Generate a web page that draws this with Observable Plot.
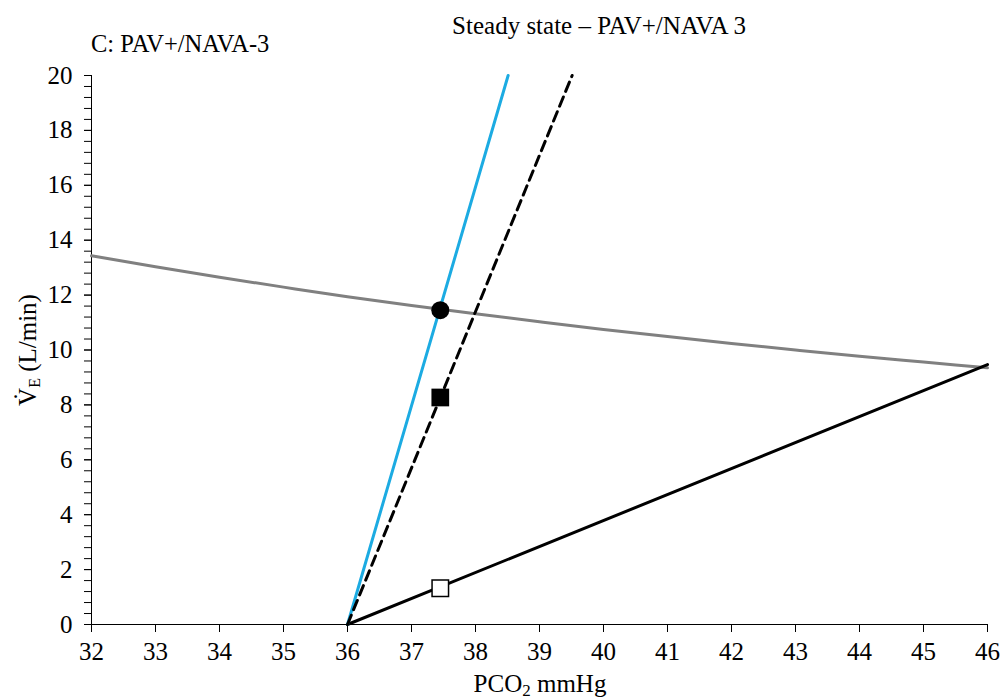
<!DOCTYPE html>
<html><head><meta charset="utf-8">
<script src="https://cdn.jsdelivr.net/npm/d3@7"></script>
<script src="https://cdn.jsdelivr.net/npm/@observablehq/plot@0.6"></script>
<style>body{margin:0;background:#fff} svg{display:block} svg text{font-family:"Liberation Serif","Times New Roman",serif !important;}</style>
</head><body><div id="chart"></div>
<script>
// Metabolic hyperbola (gray curve)
const hypPCO2 = [32, 33, 34, 35, 36, 37, 38, 39, 40, 41, 42, 43, 44, 45, 46];
const hypVE   = [13.43, 13.03, 12.65, 12.29, 11.94, 11.62, 11.32, 11.03, 10.75, 10.49, 10.24, 10.0, 9.77, 9.56, 9.35];
// Blue response line
const bluePCO2 = [36, 38.51];
const blueVE   = [0, 20];
// Dashed response line
const dashPCO2 = [36, 39.51];
const dashVE   = [0, 20];
// Solid black response line
const blackPCO2 = [36, 46];
const blackVE   = [0, 9.47];
// Markers
const markPCO2 = [37.45, 37.45, 37.45];
const markVE   = [11.45, 8.27, 1.32];
const markKind = ["filled circle", "filled square", "open square"];
// Ticks
const xTicks = [32, 33, 34, 35, 36, 37, 38, 39, 40, 41, 42, 43, 44, 45, 46];
const yTicks = [0, 2, 4, 6, 8, 10, 12, 14, 16, 18, 20];
const yMinorTicks = d3.range(0, 50.5).map(i => +(i * 0.4).toFixed(1));
// Texts
const titleText = "Steady state – PAV+/NAVA 3";
const panelText = "C: PAV+/NAVA-3";

const FONT = "'Liberation Serif', 'Times New Roman', serif";
const toRows = (xs, ys) => xs.map((x, i) => ({x, y: ys[i]}));
const marks = toRows(markPCO2, markVE).map((d, i) => ({...d, kind: markKind[i]}));

const plot = Plot.plot({
  width: 1003,
  height: 700,
  marginLeft: 91,
  marginRight: 16,
  marginTop: 75,
  marginBottom: 76,
  style: {fontFamily: FONT, fontSize: "25px", color: "#000", background: "#fff"},
  x: {domain: [32, 46], label: null},
  y: {domain: [0, 20], label: null},
  marks: [
    Plot.axisY(yMinorTicks, {tickSize: 7, tickFormat: () => "", label: null, stroke: "#000"}),
    Plot.axisY(yTicks, {tickSize: 7, tickPadding: 12, label: null, stroke: "#000", fontSize: 25}),
    Plot.axisX(xTicks, {tickSize: 8, tickPadding: 10, label: null, stroke: "#000", fontSize: 25}),
    Plot.ruleX([32], {stroke: "#000", strokeWidth: 1}),
    Plot.ruleY([0], {stroke: "#000", strokeWidth: 1}),
    Plot.line(toRows(hypPCO2, hypVE), {x: "x", y: "y", stroke: "#808080", strokeWidth: 3, curve: "monotone-x"}),
    Plot.line(toRows(blackPCO2, blackVE), {x: "x", y: "y", stroke: "#000", strokeWidth: 3}),
    Plot.line(toRows(bluePCO2, blueVE), {x: "x", y: "y", stroke: "#1cabe2", strokeWidth: 3}),
    Plot.line(toRows(dashPCO2, dashVE), {x: "x", y: "y", stroke: "#000", strokeWidth: 3, strokeDasharray: "10,6"}),
    Plot.dot(marks.filter(d => d.kind === "filled circle"), {x: "x", y: "y", r: 9, fill: "#000", stroke: "none"}),
    Plot.dot(marks.filter(d => d.kind === "filled square"), {x: "x", y: "y", r: 10, symbol: "square", fill: "#000", stroke: "none"}),
    Plot.dot(marks.filter(d => d.kind === "open square"), {x: "x", y: "y", r: 9.3, symbol: "square", fill: "#fff", stroke: "#000", strokeWidth: 1.5})
  ]
});

const svg = d3.select(plot);
svg.append("text").attr("x", 599).attr("y", 34).attr("text-anchor", "middle")
  .attr("font-size", 25).attr("fill", "#000").text(titleText);
svg.append("text").attr("x", 91).attr("y", 52).attr("text-anchor", "start")
  .attr("font-size", 24.5).attr("fill", "#000").text(panelText);

const xl = svg.append("text").attr("x", 540).attr("y", 692).attr("text-anchor", "middle")
  .attr("font-size", 25).attr("fill", "#000");
xl.append("tspan").text("PCO");
xl.append("tspan").attr("font-size", 17).attr("dy", 4).text("2");
xl.append("tspan").attr("dy", -4).text(" mmHg");

const yl = svg.append("text").attr("transform", "translate(36,350) rotate(-90)").attr("text-anchor", "middle")
  .attr("font-size", 25).attr("fill", "#000");
yl.append("tspan").text("V\u0307");
yl.append("tspan").attr("font-size", 16).attr("dy", 4).text("E");
yl.append("tspan").attr("dy", -4).text(" (L/min)");

svg.selectAll("text").style("font-family", FONT);
document.getElementById("chart").appendChild(plot);
</script>
</body></html>
